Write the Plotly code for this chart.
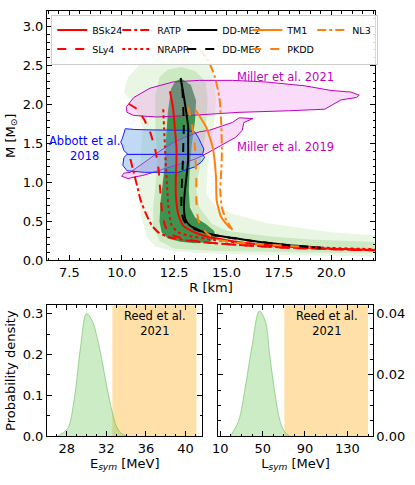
import plotly.graph_objects as go

# ---------------- data: mass-radius curves (R [km], M [Msun]) ----------------
BSK24_R = [12.30, 12.45, 12.53, 12.61, 12.61, 12.58, 12.58, 12.69, 12.92, 13.4, 14.0, 15.0, 16.0, 17.2, 18.5, 20.0, 22.1]
BSK24_M = [2.17, 1.95, 1.71, 1.45, 1.28, 1.05, 0.85, 0.60, 0.45, 0.37, 0.31, 0.26, 0.22, 0.19, 0.17, 0.15, 0.135]

SLY4_R = [10.33, 10.73, 11.04, 11.35, 11.59, 11.75, 11.83, 11.91, 12.06, 12.30, 12.8, 13.5, 14.5, 16.0, 18.0, 20.0, 22.1]
SLY4_M = [2.01, 1.94, 1.82, 1.65, 1.43, 1.18, 0.92, 0.66, 0.45, 0.34, 0.29, 0.25, 0.22, 0.19, 0.16, 0.145, 0.13]

RATP_R = [10.41, 10.57, 10.73, 10.88, 11.12, 11.43, 11.75, 12.22, 13.0, 14.0, 15.5, 17.5, 20.0, 22.1]
RATP_M = [1.30, 1.13, 0.96, 0.79, 0.62, 0.45, 0.36, 0.30, 0.26, 0.23, 0.20, 0.17, 0.145, 0.13]

NRAPR_R = [11.98, 12.02, 12.06, 12.10, 12.14, 12.18, 12.22, 12.38, 12.7, 13.3, 14.2, 15.5, 17.5, 20.0, 22.1]
NRAPR_M = [1.94, 1.70, 1.47, 1.25, 1.05, 0.88, 0.71, 0.45, 0.36, 0.31, 0.27, 0.23, 0.19, 0.16, 0.145]

DDME2_R = [12.81, 12.97, 13.08, 13.17, 13.17, 13.17, 13.08, 13.0, 12.97, 13.05, 13.24, 13.71, 14.3, 15.28, 16.5, 18.0, 19.5]
DDME2_M = [2.34, 2.09, 1.90, 1.71, 1.50, 1.28, 1.05, 0.85, 0.65, 0.52, 0.45, 0.385, 0.33, 0.29, 0.24, 0.195, 0.165]

DDMED_R = [12.89, 12.93, 12.96, 12.94, 12.92, 12.88, 12.85, 12.85, 12.95, 13.08, 13.5, 14.2, 15.3, 16.5, 18.0, 19.5]
DDMED_M = [2.20, 2.00, 1.71, 1.50, 1.28, 1.05, 0.85, 0.64, 0.52, 0.47, 0.40, 0.34, 0.285, 0.24, 0.195, 0.163]

TM1_R = [13.52, 14.03, 14.34, 14.50, 14.53, 14.74, 15.05, 15.2]
TM1_M = [1.93, 1.71, 1.45, 1.07, 0.77, 0.56, 0.45, 0.41]

PKDD_R = [13.17, 13.32, 13.48, 13.56, 13.56, 13.6, 13.71, 14.02, 14.5, 15.5, 17.0, 19.0]
PKDD_M = [1.97, 1.79, 1.50, 1.07, 0.77, 0.60, 0.47, 0.36, 0.27, 0.23, 0.20, 0.17]

NL3_R = [13.71, 14.14, 14.45, 14.66, 14.75, 14.78, 14.74, 14.70, 14.78, 14.97, 15.2, 15.28]
NL3_M = [2.71, 2.56, 2.35, 2.09, 1.75, 1.37, 1.10, 0.90, 0.68, 0.53, 0.43, 0.39]

# ---------------- data: credible regions ----------------
OUTER_R = [10.1, 10.3, 11.0, 12.1, 13.1, 14.0, 14.35, 14.5, 14.35, 14.1, 14.05, 14.5, 15.3, 16.9, 20.0, 22.2,
           22.2, 20.0, 17.0, 15.3, 13.5, 12.4, 11.6, 11.2, 10.9, 10.8, 10.9, 11.0, 10.6, 10.1]
OUTER_M = [2.15, 2.35, 2.56, 2.66, 2.69, 2.63, 2.48, 2.05, 1.62, 1.20, 0.85, 0.68, 0.60, 0.48, 0.36, 0.32,
           0.05, 0.06, 0.07, 0.08, 0.10, 0.12, 0.18, 0.30, 0.60, 0.90, 1.30, 1.70, 2.00, 2.15]

MID_R = [12.85, 13.5, 14.0, 14.1, 14.0, 13.7, 13.55, 13.7, 14.3, 15.0, 17.0, 19.0, 22.2,
         22.2, 20.0, 17.0, 14.5, 12.5, 11.8, 11.5, 11.5, 11.6, 11.7, 11.6, 11.6, 11.8, 12.2]
MID_M = [2.48, 2.43, 2.30, 2.05, 1.62, 1.20, 0.94, 0.68, 0.47, 0.38, 0.31, 0.27, 0.235,
         0.10, 0.10, 0.11, 0.12, 0.15, 0.25, 0.43, 0.68, 0.94, 1.30, 1.70, 2.10, 2.35, 2.45]

INNER_R = [12.85, 13.3, 13.55, 13.5, 13.35, 13.25, 13.2, 13.25, 13.5, 14.0, 14.4, 14.5, 14.2, 13.5, 12.8,
           12.2, 11.9, 11.8, 11.85, 12.0, 12.1, 12.2, 12.35, 12.55]
INNER_M = [2.33, 2.25, 2.05, 1.80, 1.50, 1.20, 0.90, 0.68, 0.55, 0.47, 0.38, 0.30, 0.24, 0.22, 0.24,
           0.28, 0.36, 0.50, 0.75, 1.10, 1.50, 1.90, 2.20, 2.30]

MILLER21_R = [10.22, 10.57, 11.35, 12.45, 13.71, 15.28, 16.86, 18.74, 20.0, 20.94, 21.34, 21.2, 20.47, 20.16,
              19.69, 17.96, 15.6, 13.24, 11.67, 10.57, 10.25, 10.22]
MILLER21_M = [1.97, 2.09, 2.21, 2.29, 2.31, 2.31, 2.29, 2.24, 2.18, 2.16, 2.12, 2.09, 2.06, 2.01,
              1.94, 1.92, 1.90, 1.86, 1.84, 1.86, 1.90, 1.97]

MILLER19_R = [10.0, 10.3, 10.6, 11.0, 11.5, 12.1, 12.8, 13.5, 13.9, 14.3, 14.97, 15.44, 15.75, 15.83, 16.26,
              15.6, 15.28, 14.81, 14.18, 13.7, 13.0, 12.45, 11.8, 11.3, 10.8, 10.4, 10.1, 10.0]
MILLER19_M = [1.08, 1.05, 1.07, 1.09, 1.13, 1.18, 1.24, 1.30, 1.35, 1.41, 1.50, 1.58, 1.67, 1.77, 1.82,
              1.83, 1.77, 1.73, 1.67, 1.65, 1.58, 1.51, 1.40, 1.30, 1.20, 1.13, 1.12, 1.08]

ABBOTT_UP_R = [10.17, 10.6, 11.3, 12.2, 13.0, 13.48, 13.65, 13.79, 13.92, 13.87, 13.8, 10.3, 10.25, 10.1,
               10.02, 9.95, 10.02, 10.1, 10.17]
ABBOTT_UP_M = [1.69, 1.68, 1.675, 1.67, 1.67, 1.65, 1.58, 1.50, 1.43, 1.37, 1.36, 1.36, 1.37, 1.41,
               1.48, 1.52, 1.56, 1.65, 1.69]
ABBOTT_LO_R = [10.25, 10.1, 10.05, 10.25, 11.1, 12.7, 13.48, 13.79, 13.95, 13.87, 10.25]
ABBOTT_LO_M = [1.36, 1.32, 1.22, 1.15, 1.13, 1.13, 1.20, 1.26, 1.32, 1.36, 1.36]

# ---------------- data: probability densities ----------------
ESYM_X = [27.07, 28.07, 28.73, 29.39, 29.99, 30.56, 31.05, 31.55, 32.05, 32.55, 33.04, 33.54, 34.04]
ESYM_P = [0.0, 0.018, 0.087, 0.218, 0.300, 0.283, 0.243, 0.186, 0.120, 0.063, 0.022, 0.006, 0.0]
LSYM_X = [19.5, 21.0, 27.3, 33.6, 39.8, 46.9, 52.2, 56.9, 61.6, 66.3, 70.9, 75.6]
LSYM_P = [0.0, 0.0008, 0.005, 0.016, 0.029, 0.0408, 0.0378, 0.0258, 0.0139, 0.0051, 0.0013, 0.0]
REED_ESYM = [32.6, 41.1]
REED_LSYM = [70.5, 149.5]

FONT = "DejaVu Sans"
RED, BLACK, ORANGE = "#ff0000", "#000000", "#ff7f0e"
MAG = "#bf00bf"

fig = go.Figure()

def region(R, M, fill, line=None, xa="x", ya="y"):
    fig.add_trace(go.Scatter(
        x=R, y=M, mode="lines", fill="toself", fillcolor=fill,
        line=dict(color=line if line else "rgba(0,0,0,0)", width=1 if line else 0),
        showlegend=False, hoverinfo="skip", xaxis=xa, yaxis=ya))

region(OUTER_R, OUTER_M, "rgb(234,246,228)")
region(MID_R, MID_M, "rgb(204,233,194)")
region(INNER_R, INNER_M, "rgb(62,148,78)")
region(MILLER21_R, MILLER21_M, "rgba(238,130,238,0.28)", MAG)
region(MILLER19_R, MILLER19_M, "rgba(238,130,238,0.28)", MAG)
region(ABBOTT_UP_R, ABBOTT_UP_M, "rgba(100,160,230,0.4)", "rgb(30,30,255)")
region(ABBOTT_LO_R, ABBOTT_LO_M, "rgba(100,160,230,0.4)", "rgb(30,30,255)")

def curve(name, R, M, color, dash, width=2):
    fig.add_trace(go.Scatter(
        x=R, y=M, mode="lines", name=name,
        line=dict(color=color, dash=dash, width=width, shape="spline", smoothing=0.5),
        hoverinfo="skip"))

# order chosen so the horizontal legend fills 5 columns x 2 rows like the original
curve("BSk24", BSK24_R, BSK24_M, RED, "solid")
curve("RATP", RATP_R, RATP_M, RED, "dashdot")
curve("DD-ME2", DDME2_R, DDME2_M, BLACK, "solid")
curve("TM1", TM1_R, TM1_M, ORANGE, "solid")
curve("NL3", NL3_R, NL3_M, ORANGE, "dashdot")
curve("SLy4", SLY4_R, SLY4_M, RED, "dash")
curve("NRAPR", NRAPR_R, NRAPR_M, RED, "dot")
curve("DD-MEδ", DDMED_R, DDMED_M, BLACK, "dash")
curve("PKDD", PKDD_R, PKDD_M, ORANGE, "dash")

# density panels
fig.add_trace(go.Scatter(x=ESYM_X, y=ESYM_P, mode="lines", fill="tozeroy",
                         fillcolor="rgba(110,200,90,0.35)",
                         line=dict(color="rgba(100,190,90,0.6)", width=1, shape="spline"),
                         showlegend=False, hoverinfo="skip", xaxis="x2", yaxis="y2"))
fig.add_trace(go.Scatter(x=LSYM_X, y=LSYM_P, mode="lines", fill="tozeroy",
                         fillcolor="rgba(110,200,90,0.35)",
                         line=dict(color="rgba(100,190,90,0.6)", width=1, shape="spline"),
                         showlegend=False, hoverinfo="skip", xaxis="x3", yaxis="y3"))

fig.add_shape(type="rect", xref="x2", yref="y2 domain", x0=REED_ESYM[0], x1=REED_ESYM[1], y0=0, y1=1,
              fillcolor="rgba(255,165,0,0.34)", line_width=0, layer="below")
fig.add_shape(type="rect", xref="x3", yref="y3 domain", x0=REED_LSYM[0], x1=REED_LSYM[1], y0=0, y1=1,
              fillcolor="rgba(255,165,0,0.34)", line_width=0, layer="below")

def ax(**kw):
    d = dict(showline=True, linecolor="black", linewidth=1, mirror="allticks",
             ticks="inside", ticklen=5, tickwidth=1, tickcolor="black",
             showgrid=False, zeroline=False,
             tickfont=dict(size=13, color="black", family=FONT),
             title_font=dict(size=13, color="black", family=FONT))
    d.update(kw)
    return d

def minor(dt, t0=0):
    return dict(ticks="inside", ticklen=2.5, tickwidth=1, tickcolor="black", dtick=dt, tick0=t0, showgrid=False)

fig.update_layout(
    width=415, height=485,
    margin=dict(l=46, r=37, t=10, b=49),
    plot_bgcolor="white", paper_bgcolor="white",
    font=dict(family=FONT, color="black"),
    xaxis=ax(domain=[0, 1], anchor="y", range=[6.43, 22.09], tick0=0, dtick=2.5, tickformat=".1f",
             minor=minor(0.5), title=dict(text="R [km]", standoff=3)),
    yaxis=ax(domain=[0.4131, 1], anchor="x", range=[0, 3.2], tick0=0, dtick=0.5, tickformat=".1f",
             minor=minor(0.1), title=dict(text="M [M<sub>⊙</sub>]", standoff=4)),
    xaxis2=ax(domain=[0, 0.4738], anchor="y2", range=[26.0, 41.7], tick0=0, dtick=4,
              minor=minor(1), title=dict(text="E<sub><i>sym</i></sub> [MeV]", standoff=3)),
    yaxis2=ax(domain=[0, 0.3075], anchor="x2", range=[0, 0.3204], tick0=0, dtick=0.1, tickformat=".1f",
              minor=minor(0.05), title=dict(text="Probability density", standoff=4)),
    xaxis3=ax(domain=[0.522, 0.993], anchor="y3", range=[8, 154], tick0=10, dtick=40,
              minor=minor(10, 10), title=dict(text="L<sub><i>sym</i></sub> [MeV]", standoff=3)),
    yaxis3=ax(domain=[0, 0.3075], anchor="x3", range=[0, 0.0427], side="right", tick0=0, dtick=0.02,
              tickformat=".2f", minor=minor(0.005)),
    legend=dict(x=0.013, y=0.9915, xanchor="left", yanchor="top", orientation="h",
                entrywidth=20, entrywidthmode="pixels", itemwidth=30,
                font=dict(size=9.5, family=FONT, color="black"),
                bgcolor="rgba(255,255,255,0.85)", bordercolor="#cccccc", borderwidth=1),
    annotations=[
        dict(text="Miller et al. 2021", x=17.8, y=2.35, xref="x", yref="y", showarrow=False,
             font=dict(size=11.5, color=MAG, family=FONT)),
        dict(text="Miller et al. 2019", x=17.8, y=1.45, xref="x", yref="y", showarrow=False,
             font=dict(size=11.5, color=MAG, family=FONT)),
        dict(text="Abbott et al.<br>2018", x=8.24, y=1.44, xref="x", yref="y", showarrow=False,
             align="center", font=dict(size=11.5, color="blue", family=FONT)),
        dict(text="Reed et al.<br>2021", x=36.9, y=0.276, xref="x2", yref="y2", showarrow=False,
             align="center", font=dict(size=11.5, color="black", family=FONT)),
        dict(text="Reed et al.<br>2021", x=110.5, y=0.0368, xref="x3", yref="y3", showarrow=False,
             align="center", font=dict(size=11.5, color="black", family=FONT)),
    ],
)

fig.write_html("out.html", config={"displayModeBar": False},
               post_script="document.body.style.margin='0';document.body.style.overflow='hidden';")
